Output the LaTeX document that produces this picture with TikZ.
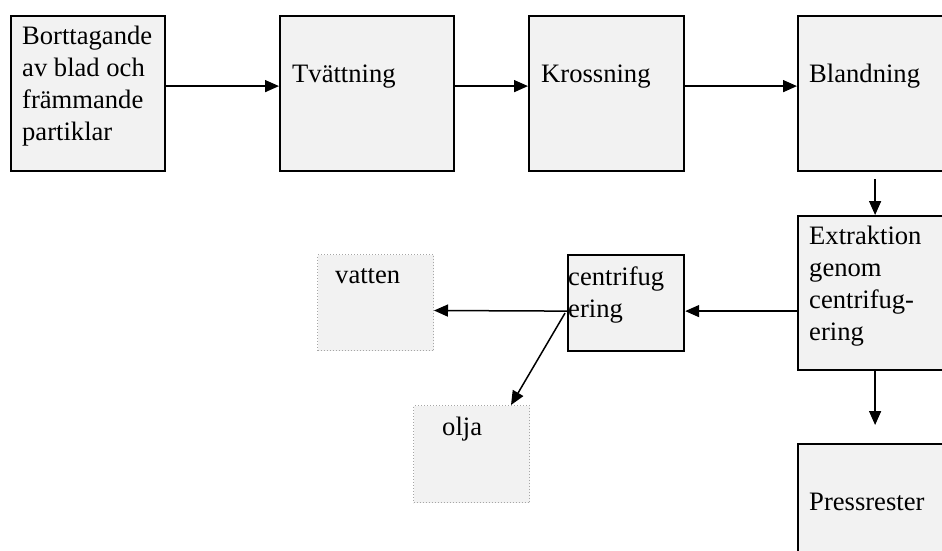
\documentclass[tikz,border=0pt]{standalone}
\usepackage{fontspec}
\setmainfont{Liberation Serif}
\usetikzlibrary{arrows.meta}
\definecolor{boxfill}{HTML}{F2F2F2}
\definecolor{dotgray}{HTML}{A6A6A6}
\begin{document}
\begin{tikzpicture}[x=1pt,y=-1pt,
  procbox/.style={draw=black, line width=2.2pt, fill=boxfill, inner sep=0pt, anchor=north west},
  outbox/.style={draw=dotgray, dotted, line width=1pt, fill=boxfill, inner sep=0pt, anchor=north west},
  lbl/.style={inner sep=0pt, anchor=base west, align=left, font=\fontsize{26.6}{31.7}\selectfont},
  flow/.style={line width=1.5pt, -{Triangle[length=14pt,width=12pt]}}]
\clip (0,0) rectangle (942,551);
\fill[white] (0,0) rectangle (942,551);
% boxes
\node[procbox, minimum width=154pt, minimum height=155pt] (b1) at (10,15) {};
\node[procbox, minimum width=174pt, minimum height=155pt] (b2) at (279,15) {};
\node[procbox, minimum width=155pt, minimum height=155pt] (b3) at (528,15) {};
\node[procbox, minimum width=154pt, minimum height=155pt] (b4) at (797,15) {};
\node[procbox, minimum width=154pt, minimum height=154pt] (b5) at (797,215) {};
\node[procbox, minimum width=116pt, minimum height=96pt] (b6) at (567,254) {};
\node[outbox, minimum width=116pt, minimum height=96pt] (b7) at (317,254) {};
\node[outbox, minimum width=116pt, minimum height=97pt] (b8) at (413,405) {};
\node[procbox, minimum width=154pt, minimum height=130pt] (b9) at (797,443) {};
% labels (base anchor = baseline of the last line)
\node[lbl] (t1) at (22,140) {Borttagande\\av blad och\\främmande\\partiklar};
\node[lbl] (t2) at (292,82) {Tvättning};
\node[lbl] (t3) at (541,82) {Krossning};
\node[lbl] (t4) at (809,82) {Blandning};
\node[lbl] (t5) at (809,340) {Extraktion\\genom\\centrifug-\\ering};
\node[lbl] (t6) at (568,317) {centrifug\\ering};
\node[lbl] (t7) at (335,283) {vatten};
\node[lbl] (t8) at (442,435) {olja};
\node[lbl] (t9) at (809,510) {Pressrester};
% connectors
\coordinate (c45) at ([yshift=-7pt]b4.south);
\coordinate (c59) at ([yshift=18pt]b9.north);
\coordinate (c6s) at ([xshift=-2pt,yshift=-10pt]b6.west);
\coordinate (c8e) at ([xshift=-19pt]b8.north east);
\draw[flow] ([yshift=7.5pt]b1.east) -- ([yshift=7.5pt]b2.west);
\draw[flow] ([yshift=7.5pt]b2.east) -- ([yshift=7.5pt]b3.west);
\draw[flow] ([yshift=7.5pt]b3.east) -- ([yshift=7.5pt]b4.west);
\draw[flow] (c45) -- (b5.north);
\draw[flow] (b5.south) -- (c59);
\draw[flow] ([yshift=-18pt]b5.west) -- ([yshift=-8pt]b6.east);
\draw[flow] ([yshift=-8pt]b6.west) -- ([yshift=-8pt]b7.east);
\draw[flow] (c6s) -- (c8e);
\end{tikzpicture}
\end{document}
